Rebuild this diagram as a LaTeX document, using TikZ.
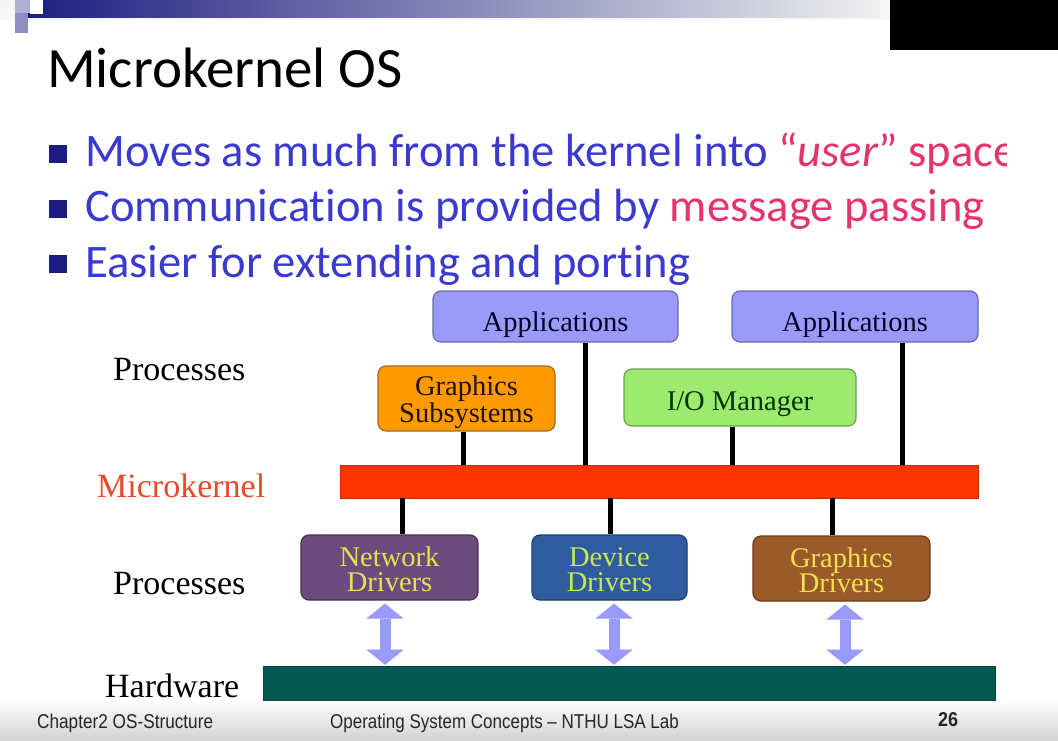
\documentclass[tikz,border=0pt]{standalone}
\usepackage{fontspec}
\setmainfont{Liberation Serif}
\newfontfamily\slidefont[Ligatures=NoCommon]{Carlito}
\newfontfamily\footfont{Liberation Sans}
\usetikzlibrary{arrows.meta}

% slide palette
\definecolor{navy}{HTML}{1C1C80}
\definecolor{bullettext}{HTML}{3A3AD0}
\definecolor{accent}{HTML}{E6336B}
\definecolor{kernellabel}{HTML}{E8482C}
\definecolor{appfill}{HTML}{9A9AF8}
\definecolor{appline}{HTML}{6A6AA8}
\definecolor{gsfill}{HTML}{FF9A00}
\definecolor{gsline}{HTML}{A06820}
\definecolor{iofill}{HTML}{9CEB6E}
\definecolor{ioline}{HTML}{6AA050}
\definecolor{mkfill}{HTML}{FF3300}
\definecolor{ndfill}{HTML}{6C4C7C}
\definecolor{ndline}{HTML}{4A3358}
\definecolor{ddfill}{HTML}{2E5C9E}
\definecolor{ddline}{HTML}{1E3E70}
\definecolor{gdfill}{HTML}{9A5A2A}
\definecolor{gdline}{HTML}{6A3A1A}
\definecolor{hwfill}{HTML}{03584F}
\definecolor{arrowc}{HTML}{9A9AFA}
\definecolor{ndtext}{HTML}{E8E050}
\definecolor{ddtext}{HTML}{C8E858}
\definecolor{gdtext}{HTML}{F2E050}

\begin{document}
\begin{tikzpicture}[x=1pt,y=-1pt,
  box/.style={draw, rounded corners=8pt, line width=1.2pt, inner sep=0pt},
  boxlbl/.style={align=center, inner sep=0pt, font=\fontsize{28.5}{25}\selectfont},
  bar/.style={inner sep=0pt},
  sidelabel/.style={anchor=base west, inner sep=0pt, font=\fontsize{34}{40}\selectfont},
  bullettxt/.style={anchor=base west, inner sep=0pt, text=bullettext,
    font=\slidefont\fontsize{46.6}{55}\selectfont},
  bulletsq/.style={fill=navy, minimum size=18pt, inner sep=0pt},
  foot/.style={anchor=base west, inner sep=0pt, font=\footfont\fontsize{20}{24}\selectfont, text=black!85},
  conn/.style={line width=5pt, black},
  dbl/.style={draw=arrowc, line width=11pt,
    {Triangle[width=37pt,length=15pt,line width=0.1pt]}-{Triangle[width=37pt,length=15pt,line width=0.1pt]},
    shorten <=3pt, shorten >=1pt}
]
\useasboundingbox (0,0) rectangle (1058,741);
\fill[white!97!black] (0,0) rectangle (1058,741);
\fill[white] (0,20) rectangle (1058,700);
% footer band
\shade[top color=white, bottom color=black!18] (0,700) rectangle (1058,741);

% header strip with its corner squares
\shade[left color=navy, right color=black!6] (20,0) rectangle (880,18);
\fill[black!4] (0,0) rectangle (15,10);
\fill[navy!35] (15,0) rectangle (30,13);
\fill[white] (30,0) rectangle (43,14);
\fill[navy!50] (15,13) rectangle (28,33);
\fill[black] (890,0) rectangle (1058,50);

% title
\node[anchor=base west, inner sep=0pt, font=\slidefont\fontsize{57}{68}\selectfont] (title) at (47,88) {Microkernel OS};

% bullets
\node[bulletsq] (b1) at (58,154) {};
\node[bulletsq] (b2) at (58,209) {};
\node[bulletsq] (b3) at (58,264) {};
\begin{scope}
  % the first line runs past the right edge of the text area
  \clip (0,100) rectangle (1006,180);
  \node[bullettxt] (t1) at (85,167) {Moves as much from the kernel into \textcolor{accent}{“\textit{user}”\ space}};
\end{scope}
\node[bullettxt] (t2) at (85,222) {Communication is provided by \textcolor{accent}{message passing}};
\node[bullettxt] (t3) at (85,277) {Easier for extending and porting};

% layer labels
\node[sidelabel] (lp1) at (113,380) {Processes};
\node[sidelabel, text=kernellabel] (lmk) at (97,497) {Microkernel};
\node[sidelabel] (lp2) at (113,594) {Processes};
\node[sidelabel] (lhw) at (105,697) {Hardware};

% user-level servers
\node[box, fill=appfill, draw=appline, minimum width=245pt, minimum height=51pt,
  label={[boxlbl, text=black!85!blue, yshift=-8pt]center:Applications}] (A1) at (555.5,316.5) {};
\node[box, fill=appfill, draw=appline, minimum width=246pt, minimum height=51pt,
  label={[boxlbl, text=black!85!blue, yshift=-8pt]center:Applications}] (A2) at (855,316.5) {};
\node[box, fill=gsfill, draw=gsline, minimum width=177pt, minimum height=65pt,
  label={[boxlbl, text=black!85!brown, yshift=-4pt]center:Graphics\\Subsystems}] (GS) at (466.5,398.5) {};
\node[box, fill=iofill, draw=ioline, minimum width=232pt, minimum height=57pt,
  label={[boxlbl, text=black!80!green, yshift=-7pt]center:I/O Manager}] (IO) at (740,397.5) {};

% kernel and hardware bars
\node[bar, fill=mkfill, draw=mkfill!80!black, line width=0.6pt, minimum width=638pt, minimum height=33pt] (MK) at (659,481.5) {};
\node[bar, fill=hwfill, draw=hwfill!80!black, line width=0.6pt, minimum width=732pt, minimum height=34pt] (HW) at (629,683) {};

% drivers
\node[box, fill=ndfill, draw=ndline, minimum width=177pt, minimum height=65pt,
  label={[boxlbl, text=ndtext, yshift=-2pt]center:Network\\Drivers}] (ND) at (389.5,567.5) {};
\node[box, fill=ddfill, draw=ddline, minimum width=155pt, minimum height=65pt,
  label={[boxlbl, text=ddtext, yshift=-2pt]center:Device\\Drivers}] (DD) at (609.5,567.5) {};
\node[box, fill=gdfill, draw=gdline, minimum width=177pt, minimum height=65pt,
  label={[boxlbl, text=gdtext, yshift=-2pt]center:Graphics\\Drivers}] (GD) at (841.5,568.5) {};

% links to the microkernel
\draw[conn] ([xshift=-3.5pt]GS.south) -- ([xshift=-3.5pt]GS.south |- MK.north);
\draw[conn] ([xshift=29.5pt]A1.south) -- ([xshift=29.5pt]A1.south |- MK.north);
\draw[conn] ([xshift=-8pt]IO.south) -- ([xshift=-8pt]IO.south |- MK.north);
\draw[conn] ([xshift=47pt]A2.south) -- ([xshift=47pt]A2.south |- MK.north);
\draw[conn] ([xshift=12.5pt]ND.north |- MK.south) -- ([xshift=12.5pt]ND.north);
\draw[conn] ([xshift=0.5pt]DD.north |- MK.south) -- ([xshift=0.5pt]DD.north);
\draw[conn] ([xshift=-9.5pt]GD.north |- MK.south) -- ([xshift=-9.5pt]GD.north);

% driver <-> hardware
\draw[dbl] ([xshift=-4.5pt]ND.south) -- ([xshift=-4.5pt]ND.south |- HW.north);
\draw[dbl] ([xshift=4.5pt]DD.south) -- ([xshift=4.5pt]DD.south |- HW.north);
\draw[dbl] ([xshift=3.5pt]GD.south) -- ([xshift=3.5pt]GD.south |- HW.north);

% footer
\node[foot] (f1) at (37,728) {\scalebox{0.86}[1]{Chapter2 OS-Structure}};
\node[foot] (f2) at (330,728) {\scalebox{0.85}[1]{Operating System Concepts – NTHU LSA Lab}};
\node[foot, font=\footfont\bfseries\fontsize{20}{24}\selectfont] (f3) at (938,726) {\scalebox{0.9}[1]{26}};
\end{tikzpicture}
\end{document}
